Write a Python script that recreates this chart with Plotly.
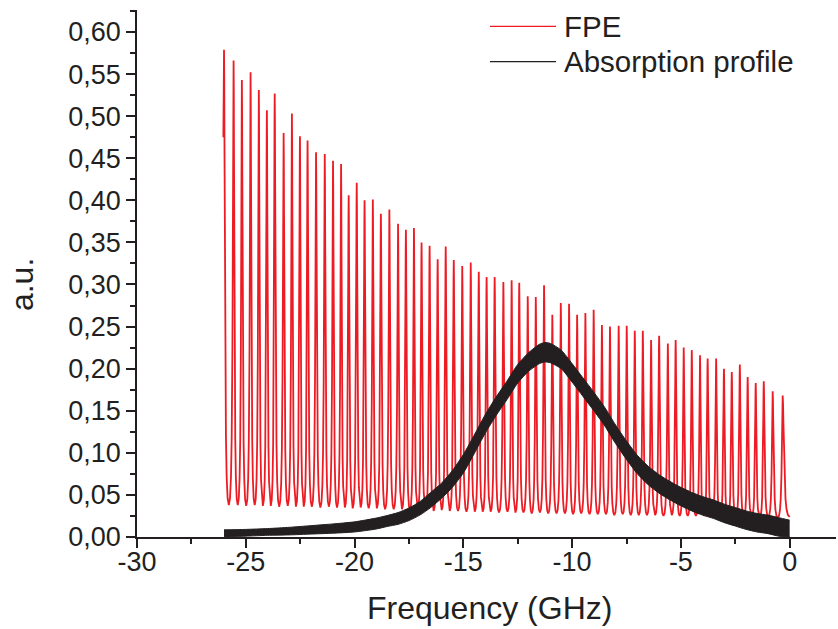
import plotly.graph_objects as go

# ---- Fabry-Perot etalon (FPE) transmission fringes ----
# fringe maxima: frequency (GHz) and height (a.u.)
PEAK_GHZ = [
    -26.00, -25.56, -25.18, -24.78, -24.40, -24.03, -23.67, -23.26, -22.88, -22.51,
    -22.16, -21.77, -21.37, -20.99, -20.62, -20.27, -19.90, -19.54, -19.16, -18.79,
    -18.40, -18.00, -17.64, -17.27, -16.92, -16.55, -16.18, -15.81, -15.44, -15.05,
    -14.66, -14.29, -13.93, -13.56, -13.16, -12.78, -12.43, -12.04, -11.67, -11.29,
    -10.91, -10.52, -10.14, -9.77, -9.39, -9.01, -8.63, -8.26, -7.86, -7.49,
    -7.12, -6.75, -6.37, -6.00, -5.60, -5.24, -4.87, -4.50, -4.12, -3.77,
    -3.38, -3.02, -2.66, -2.29, -1.93, -1.56, -1.19, -0.78, -0.32,
]
PEAK_HEIGHT = [
    0.579, 0.566, 0.543, 0.552, 0.531, 0.507, 0.527, 0.480, 0.503, 0.476,
    0.471, 0.457, 0.455, 0.447, 0.443, 0.406, 0.421, 0.400, 0.401, 0.384,
    0.389, 0.372, 0.365, 0.367, 0.350, 0.346, 0.330, 0.345, 0.329, 0.322,
    0.326, 0.315, 0.309, 0.309, 0.303, 0.305, 0.302, 0.286, 0.285, 0.299,
    0.264, 0.278, 0.277, 0.264, 0.266, 0.270, 0.252, 0.250, 0.251, 0.251,
    0.245, 0.245, 0.234, 0.239, 0.230, 0.234, 0.225, 0.222, 0.216, 0.212,
    0.212, 0.200, 0.196, 0.205, 0.190, 0.183, 0.185, 0.173, 0.168,
]
# minima between consecutive fringes
VALLEY_LEVEL = [
    0.038, 0.038, 0.037, 0.038, 0.037, 0.037, 0.036, 0.037, 0.036, 0.036,
    0.036, 0.035, 0.036, 0.035, 0.035, 0.034, 0.035, 0.034, 0.034, 0.033,
    0.033, 0.033, 0.032, 0.033, 0.032, 0.031, 0.032, 0.031, 0.031, 0.030,
    0.030, 0.030, 0.030, 0.029, 0.030, 0.029, 0.029, 0.028, 0.029, 0.028,
    0.028, 0.028, 0.027, 0.028, 0.027, 0.027, 0.027, 0.026, 0.027, 0.026,
    0.026, 0.026, 0.026, 0.025, 0.026, 0.025, 0.025, 0.025, 0.025, 0.024,
    0.025, 0.024, 0.024, 0.024, 0.024, 0.023, 0.024, 0.023,
]
FPE_START = (-26.03, 0.475)
FPE_END = (0.0, 0.024)

# fringe flank: position as a fraction of the way to the next minimum,
# level as a fraction of the peak-to-minimum contrast
FLANK_STEP = [0.0, 0.05, 0.10, 0.18, 0.25, 0.40, 0.55, 0.75, 1.0]
FLANK_LEVEL = [1.0, 0.93, 0.78, 0.52, 0.35, 0.15, 0.062, 0.015, 0.0]

# ---- Absorption profile (noisy band: lower and upper envelope) ----
ABS_GHZ = [-26.0, -25.0, -24.0, -23.0, -22.0, -21.0, -20.0, -19.0, -18.5, -18.0,
           -17.5, -17.0, -16.5, -16.0, -15.5, -15.0, -14.5, -14.0, -13.5, -13.0,
           -12.5, -12.0, -11.5, -11.25, -11.0, -10.5, -10.0, -9.5, -9.0, -8.5,
           -8.0, -7.5, -7.0, -6.5, -6.0, -5.5, -5.0, -4.5, -4.0, -3.5,
           -3.0, -2.5, -2.0, -1.5, -1.0, -0.5, 0.0]
ABS_LOW = [0.0005, 0.001, 0.002, 0.0025, 0.0035, 0.0045, 0.006, 0.0095, 0.0125, 0.015,
           0.0195, 0.026, 0.035, 0.046, 0.059, 0.076, 0.099, 0.123, 0.144, 0.163,
           0.183, 0.197, 0.206, 0.208, 0.207, 0.200, 0.184, 0.167, 0.150, 0.132,
           0.111, 0.092, 0.075, 0.062, 0.052, 0.044, 0.037, 0.031, 0.026, 0.022,
           0.017, 0.013, 0.009, 0.006, 0.004, 0.001, 0.0]
ABS_HIGH = [0.0085, 0.009, 0.010, 0.0115, 0.0135, 0.0155, 0.018, 0.0225, 0.0255, 0.029,
            0.0345, 0.042, 0.053, 0.064, 0.079, 0.098, 0.121, 0.145, 0.166, 0.185,
            0.205, 0.219, 0.229, 0.231, 0.230, 0.222, 0.206, 0.189, 0.172, 0.154,
            0.133, 0.114, 0.097, 0.084, 0.074, 0.066, 0.059, 0.053, 0.048, 0.044,
            0.039, 0.035, 0.031, 0.028, 0.026, 0.023, 0.020]

X_TICKS = [-30, -25, -20, -15, -10, -5, 0]
X_TICK_LABELS = ["-30", "-25", "-20", "-15", "-10", "-5", "0"]

RED = "#ED1C24"
INK = "#231F20"
FONT = "Liberation Sans, Arial, sans-serif"


def fringe_trace():
    xs, ys = [FPE_START[0]], [FPE_START[1]]
    n = len(PEAK_GHZ)
    for i in range(n):
        p, h = PEAK_GHZ[i], PEAK_HEIGHT[i]
        xs.append(p)
        ys.append(h)
        if i < n - 1:
            nxt, hn, v = PEAK_GHZ[i + 1], PEAK_HEIGHT[i + 1], VALLEY_LEVEL[i]
            half = (nxt - p) / 2
            # falling flank down to the minimum
            for s, f in zip(FLANK_STEP[1:], FLANK_LEVEL[1:]):
                xs.append(p + s * half)
                ys.append(v + f * (h - v))
            # rising flank up to the next fringe
            for s, f in reversed(list(zip(FLANK_STEP[1:-1], FLANK_LEVEL[1:-1]))):
                xs.append(nxt - s * half)
                ys.append(v + f * (hn - v))
        else:
            end_x, end_v = FPE_END
            half = end_x - p
            for s, f in zip(FLANK_STEP[1:], FLANK_LEVEL[1:]):
                xs.append(p + s * half)
                ys.append(end_v + f * (h - end_v))
    return xs, ys


fx, fy = fringe_trace()

fig = go.Figure()
fig.add_trace(go.Scatter(x=fx, y=fy, mode="lines", name="FPE",
                         line=dict(color=RED, width=1.8), showlegend=False,
                         hoverinfo="skip"))
fig.add_trace(go.Scatter(x=ABS_GHZ, y=ABS_LOW, mode="lines",
                         line=dict(color=INK, width=1, shape="spline", smoothing=0.6),
                         showlegend=False, hoverinfo="skip"))
fig.add_trace(go.Scatter(x=ABS_GHZ, y=ABS_HIGH, mode="lines", name="Absorption profile",
                         line=dict(color=INK, width=1, shape="spline", smoothing=0.6),
                         fill="tonexty", fillcolor=INK, showlegend=False,
                         hoverinfo="skip"))

# legend drawn as line samples with labels
legend_items = [("FPE", RED, 0.969), ("Absorption profile", INK, 0.902)]
for label, color, ly in legend_items:
    fig.add_shape(type="line", xref="paper", yref="paper",
                  x0=0.505, x1=0.5994, y0=ly, y1=ly,
                  line=dict(color=color, width=1.3))
    fig.add_annotation(text=label, xref="paper", yref="paper", x=0.608, y=ly,
                       xanchor="left", yanchor="middle", showarrow=False,
                       font=dict(family=FONT, size=29.5, color=INK))

# axis titles
fig.add_annotation(text="Frequency (GHz)", xref="paper", yref="paper",
                   x=0.505, y=-0.1347, xanchor="center", yanchor="middle",
                   showarrow=False, font=dict(family=FONT, size=32, color=INK))
fig.add_annotation(text="a.u.", xref="paper", yref="paper", textangle=-90,
                   x=-0.1645, y=0.478, xanchor="center", yanchor="middle",
                   showarrow=False, font=dict(family=FONT, size=32, color=INK))

axis_common = dict(
    showline=True, linecolor=INK, linewidth=1.5, mirror=False,
    showgrid=False, zeroline=False,
    ticks="outside", tickcolor=INK, tickwidth=1.5, ticklen=9,
    tickfont=dict(family=FONT, size=27, color=INK),
)

fig.update_layout(
    width=838, height=629,
    margin=dict(l=137, r=2, t=10, b=92),
    paper_bgcolor="white", plot_bgcolor="white",
    separators=", ",
    xaxis=dict(range=[-30, 2.13], tickvals=X_TICKS, ticktext=X_TICK_LABELS,
               ticklabelstandoff=-9,
               minor=dict(ticks="outside", dtick=2.5, ticklen=5, tickwidth=1.5, tickcolor=INK),
               **axis_common),
    yaxis=dict(range=[0, 0.6261], tick0=0, dtick=0.05, tickformat=".2f",
               minor=dict(ticks="outside", dtick=0.025, ticklen=5, tickwidth=1.5, tickcolor=INK),
               **axis_common),
)

fig.write_html("out.html")
